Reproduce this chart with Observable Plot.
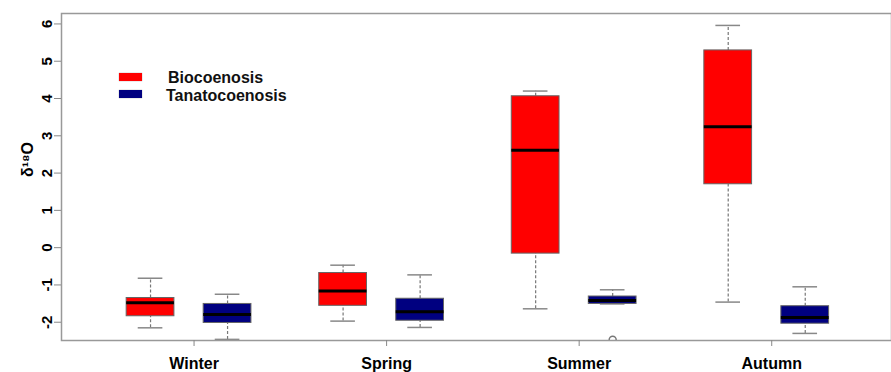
<!DOCTYPE html>
<html>
<head>
<meta charset="utf-8">
<script src="https://cdn.jsdelivr.net/npm/d3@7"></script>
<script src="https://cdn.jsdelivr.net/npm/@observablehq/plot@0.6"></script>
<style>
  html, body { margin: 0; padding: 0; background: #fff; }
  #wrap { position: relative; width: 891px; height: 372px; font-family: "Liberation Sans", Arial, sans-serif; }
  .sw { position: absolute; width: 23px; height: 8px; }
  .lt { position: absolute; font-size: 16px; line-height: 16px; font-weight: bold; color: #111; white-space: nowrap; }
</style>
</head>
<body>
<div id="wrap"></div>
<script>
// ---- data ----
const seasons = ["Winter", "Spring", "Summer", "Autumn"];
const groups = ["Biocoenosis", "Tanatocoenosis"];
const colors = ["#ff0000", "#000080"];

const bioLow    = [-2.15, -1.97, -1.64, -1.46];
const bioQ1     = [-1.84, -1.56, -0.16,  1.70];
const bioMedian = [-1.48, -1.16,  2.61,  3.24];
const bioQ3     = [-1.35, -0.68,  4.06,  5.29];
const bioHigh   = [-0.82, -0.47,  4.20,  5.96];

const tanLow    = [-2.46, -2.14, -1.51, -2.30];
const tanQ1     = [-2.02, -1.96, -1.51, -2.04];
const tanMedian = [-1.79, -1.72, -1.42, -1.87];
const tanQ3     = [-1.51, -1.37, -1.31, -1.57];
const tanHigh   = [-1.25, -0.73, -1.13, -1.05];

const outlierSeason = ["Summer"];
const outlierGroup  = ["Tanatocoenosis"];
const outlierValue  = [-2.47];

const yTicks = [-2, -1, 0, 1, 2, 3, 4, 5, 6];
const yLabel = "δ¹⁸O";

// ---- build table ----
const stats = [
  {low: bioLow, q1: bioQ1, med: bioMedian, q3: bioQ3, high: bioHigh},
  {low: tanLow, q1: tanQ1, med: tanMedian, q3: tanQ3, high: tanHigh}
];
const seasonGap = 2.5, boxHalf = 0.31, capHalf = 0.16;
const posOf = (s, g) => seasons.indexOf(s) * seasonGap + groups.indexOf(g);
const rows = [];
groups.forEach((g, gi) => seasons.forEach((s, si) => {
  const st = stats[gi];
  rows.push({season: s, group: g, pos: posOf(s, g), color: colors[gi],
    low: st.low[si], q1: st.q1[si], med: st.med[si], q3: st.q3[si], high: st.high[si]});
}));
const outliers = outlierValue.map((v, i) => ({pos: posOf(outlierSeason[i], outlierGroup[i]), value: v}));
const seasonTicks = seasons.map((s, i) => i * seasonGap + 0.5);

const chart = Plot.plot({
  width: 891,
  height: 372,
  marginLeft: 61,
  marginRight: 0,
  marginTop: 13,
  marginBottom: 32,
  style: {fontFamily: "'Liberation Sans', Arial, sans-serif", background: "#fff", color: "#000"},
  x: {domain: [-1.156, 9.62], axis: null},
  y: {domain: [-2.49, 6.28], axis: null},
  marks: [
    // whiskers
    Plot.ruleX(rows, {x: "pos", y1: "q3", y2: "high", stroke: "#777", strokeWidth: 1.2, strokeDasharray: "3,2"}),
    Plot.ruleX(rows, {x: "pos", y1: "low", y2: "q1", stroke: "#777", strokeWidth: 1.2, strokeDasharray: "3,2"}),
    // caps
    Plot.ruleY(rows, {y: "high", x1: d => d.pos - capHalf, x2: d => d.pos + capHalf, stroke: "#888", strokeWidth: 1.5}),
    Plot.ruleY(rows, {y: "low", x1: d => d.pos - capHalf, x2: d => d.pos + capHalf, stroke: "#888", strokeWidth: 1.5}),
    // boxes
    Plot.rect(rows, {x1: d => d.pos - boxHalf, x2: d => d.pos + boxHalf, y1: "q1", y2: "q3", fill: "color", stroke: "#666", strokeWidth: 1}),
    // medians
    Plot.ruleY(rows, {y: "med", x1: d => d.pos - boxHalf, x2: d => d.pos + boxHalf, stroke: "#000", strokeWidth: 3}),
    // outliers
    Plot.dot(outliers, {x: "pos", y: "value", r: 3.5, stroke: "#777", fill: "none", clip: true}),
    // frame
    Plot.frame({stroke: "#999", strokeWidth: 1.5}),
    // y axis
    Plot.axisY({ticks: yTicks, tickFormat: d => String(d), tickSize: 7, tickPadding: 3, tickRotate: -90, fontSize: 15, fontWeight: "bold",
                stroke: "#888", fill: "#000", label: null}),
    Plot.text([yLabel], {frameAnchor: "left", dx: -34, rotate: -90, fontSize: 16, fontWeight: "bold", fill: "#000"}),
    // x axis
    Plot.axisX({ticks: seasonTicks, tickFormat: (d) => seasons[seasonTicks.indexOf(d)], tickSize: 6, tickPadding: 11,
                fontSize: 16, fontWeight: "bold", stroke: "#888", fill: "#000", dx: 5, label: null})
  ]
});

const wrap = document.getElementById("wrap");
wrap.appendChild(chart);

// legend overlay
const legendRows = [
  {top: 72.7, textLeft: 168, textTop: 70},
  {top: 89.5, textLeft: 166, textTop: 88}
];
groups.forEach((g, i) => {
  const sw = document.createElement("div");
  sw.className = "sw";
  sw.style.left = "119px";
  sw.style.top = legendRows[i].top + "px";
  sw.style.background = colors[i];
  sw.style.boxShadow = "0 0 1px #888";
  wrap.appendChild(sw);
  const t = document.createElement("div");
  t.className = "lt";
  t.style.left = legendRows[i].textLeft + "px";
  t.style.top = legendRows[i].textTop + "px";
  t.textContent = g;
  wrap.appendChild(t);
});
</script>
</body>
</html>
